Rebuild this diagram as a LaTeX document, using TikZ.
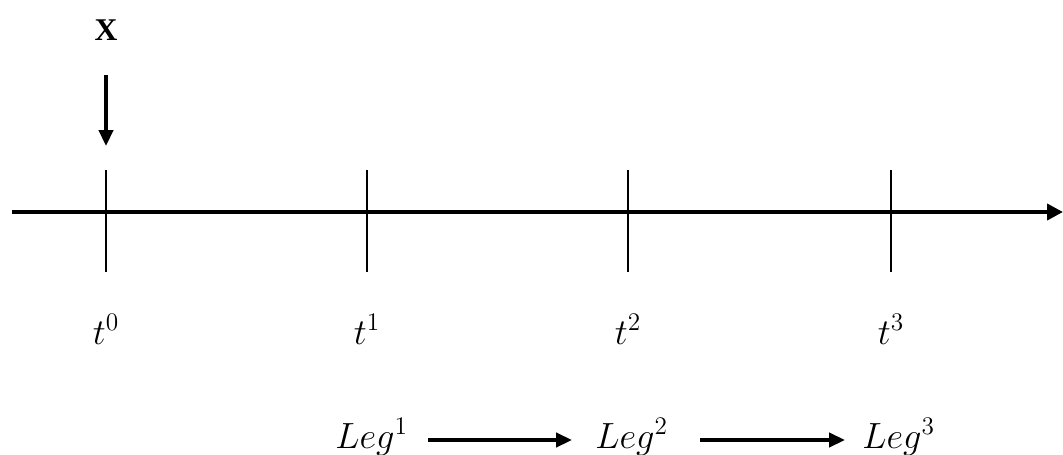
\documentclass[tikz,border=0pt]{standalone}
\usepackage{fontspec}
\setmainfont{Liberation Serif}
\usetikzlibrary{arrows.meta}
\begin{document}
\begin{tikzpicture}[x=0.02cm,y=-0.02cm,
  axis/.style={line width=2.2pt,-{Triangle[length=9pt,width=9pt]}},
  tick/.style={line width=1.2pt},
  arr/.style={line width=2pt,-{Triangle[length=9pt,width=8pt]}},
  lbl/.style={font=\fontsize{20}{24}\selectfont, inner sep=0pt}]
\useasboundingbox (0,0) rectangle (1063,454);
\coordinate (a0) at (12,212);
\coordinate (a1) at (1063,212);
\draw[axis] (a0) -- (a1);
\foreach \i/\x in {0/106,1/367,2/628,3/891}{
  \coordinate (top\i) at (\x,170);
  \coordinate (bot\i) at (\x,272);
  \draw[tick] (top\i) -- (bot\i);
  \node[lbl,anchor=base] (t\i) at (\x,344) {$t^{\i}$};
}
\node[lbl,font=\fontsize{18}{20}\selectfont\bfseries] (X) at (106,30) {X};
\coordinate (xs) at (106,75);
\coordinate (xe) at (106,146);
\draw[arr] (xs) -- (xe);
\node[lbl,anchor=base west] (L1) at (335,448) {$Leg^1$};
\node[lbl,anchor=base west] (L2) at (595,448) {$Leg^2$};
\node[lbl,anchor=base west] (L3) at (862,448) {$Leg^3$};
\coordinate (s1) at (428,440);
\coordinate (e1) at (572,440);
\coordinate (s2) at (700,440);
\coordinate (e2) at (845,440);
\draw[arr] (s1) -- (e1);
\draw[arr] (s2) -- (e2);
\end{tikzpicture}
\end{document}
